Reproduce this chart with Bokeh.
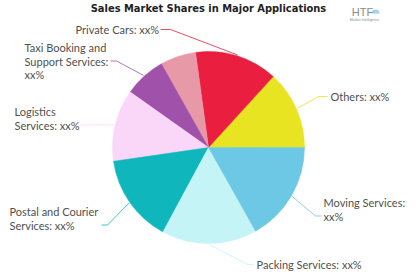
import math
from bokeh.plotting import figure
from bokeh.models import ColumnDataSource
from bokeh.core.properties import value
from bokeh.embed import file_html
from bokeh.resources import INLINE

# ---- data ----
categories = ["Others", "Private Cars", "", "Taxi Booking and Support Services",
              "Logistics Services", "Postal and Courier Services",
              "Packing Services", "Moving Services"]
shares = [13.2, 13.9, 6.0, 7.0, 12.1, 14.8, 16.0, 16.8]
label_texts = ["Others: xx%", "Private Cars: xx%", "",
               "Taxi Booking and\nSupport Services:\nxx%",
               "Logistics\nServices: xx%",
               "Postal and Courier\nServices: xx%",
               "Packing Services: xx%",
               "Moving Services:\nxx%"]
colors = ["#e8e421", "#ea1f40", "#e899a8", "#a052ab",
          "#fad6f8", "#0fb7bd", "#c4f4f6", "#6cc8e4"]

# ---- layout (pixel coords, y down) ----
W, H = 416, 277
CX, CY, R = 208, 147, 96
# text left x, first-line centre y, connector start x, elbow x
label_pos = {
    0: (330, 96, 327, 318),
    1: (75, 29, 160, 170),
    3: (24, 47, 110, 116),
    4: (14, 111, 80, 88),
    5: (9, 211, 101, 107),
    6: (256, 264, 253, 247),
    7: (323, 202, 321, 315),
}
LINE_H = 13.5

def Y(y):
    return H - y

p = figure(width=W, height=H, x_range=(0, W), y_range=(0, H),
           output_backend="svg", toolbar_location=None, min_border=0)
p.axis.visible = False
p.grid.visible = False
p.outline_line_color = None
p.background_fill_color = "white"

total = sum(shares)
starts, ends, mids = [], [], []
acc = 0.0
for s in shares:
    a0 = acc / total * 2 * math.pi
    acc += s
    a1 = acc / total * 2 * math.pi
    starts.append(a0)
    ends.append(a1)
    mids.append((a0 + a1) / 2)

src = ColumnDataSource(dict(start=starts, end=ends, color=colors, cat=categories))
p.wedge(x=CX, y=Y(CY), radius=R, start_angle="start", end_angle="end",
        fill_color="color", line_color="color", line_width=0.5, source=src)

# connectors
xs, ys, lc = [], [], []
tx, ty, tt = [], [], []
for i, (lx, ly, sx, ex) in label_pos.items():
    lines = label_texts[i].split("\n")
    for k, ln in enumerate(lines):
        tx.append(lx)
        ty.append(Y(ly + k * LINE_H))
        tt.append(ln)
    cy_line = ly + (len(lines) - 1) * LINE_H if i in (4, 5, 7) else ly
    if i == 3:
        cy_line = ly + LINE_H
    mx = CX + (R + 1) * math.cos(mids[i])
    my = CY - (R + 1) * math.sin(mids[i])
    xs.append([sx, ex, mx])
    ys.append([Y(cy_line), Y(cy_line), Y(my)])
    lc.append(colors[i])

p.multi_line(xs=xs, ys=ys, line_color=lc, line_width=1, line_alpha=0.8)
p.text(x=tx, y=ty, text=tt, text_font=value("Lato"), text_font_size="11px",
       text_color="#505050", text_baseline="middle", text_align="left")

# title
p.text(x=[208], y=[Y(8)], text=["Sales Market Shares in Major Applications"],
       text_font=value("DejaVu Sans Condensed"), text_font_style="bold",
       text_font_size="11px", text_color="#222222",
       text_baseline="middle", text_align="center")

# logo
p.text(x=[362], y=[Y(11)], text=["HTF"], text_font=value("Liberation Sans"),
       text_font_size="11px", text_color="#8a8a8a",
       text_baseline="middle", text_align="center")
p.text(x=[364], y=[Y(19)], text=["Market Intelligence"], text_font=value("Liberation Sans"),
       text_font_size="3.5px", text_color="#8a8a8a",
       text_baseline="middle", text_align="center")
p.wedge(x=[375], y=[Y(13)], radius=4, start_angle=0, end_angle=math.pi,
        fill_color="#7fbde0", line_color=None, fill_alpha=0.7)

open("out.html", "w").write(file_html(p, INLINE))
